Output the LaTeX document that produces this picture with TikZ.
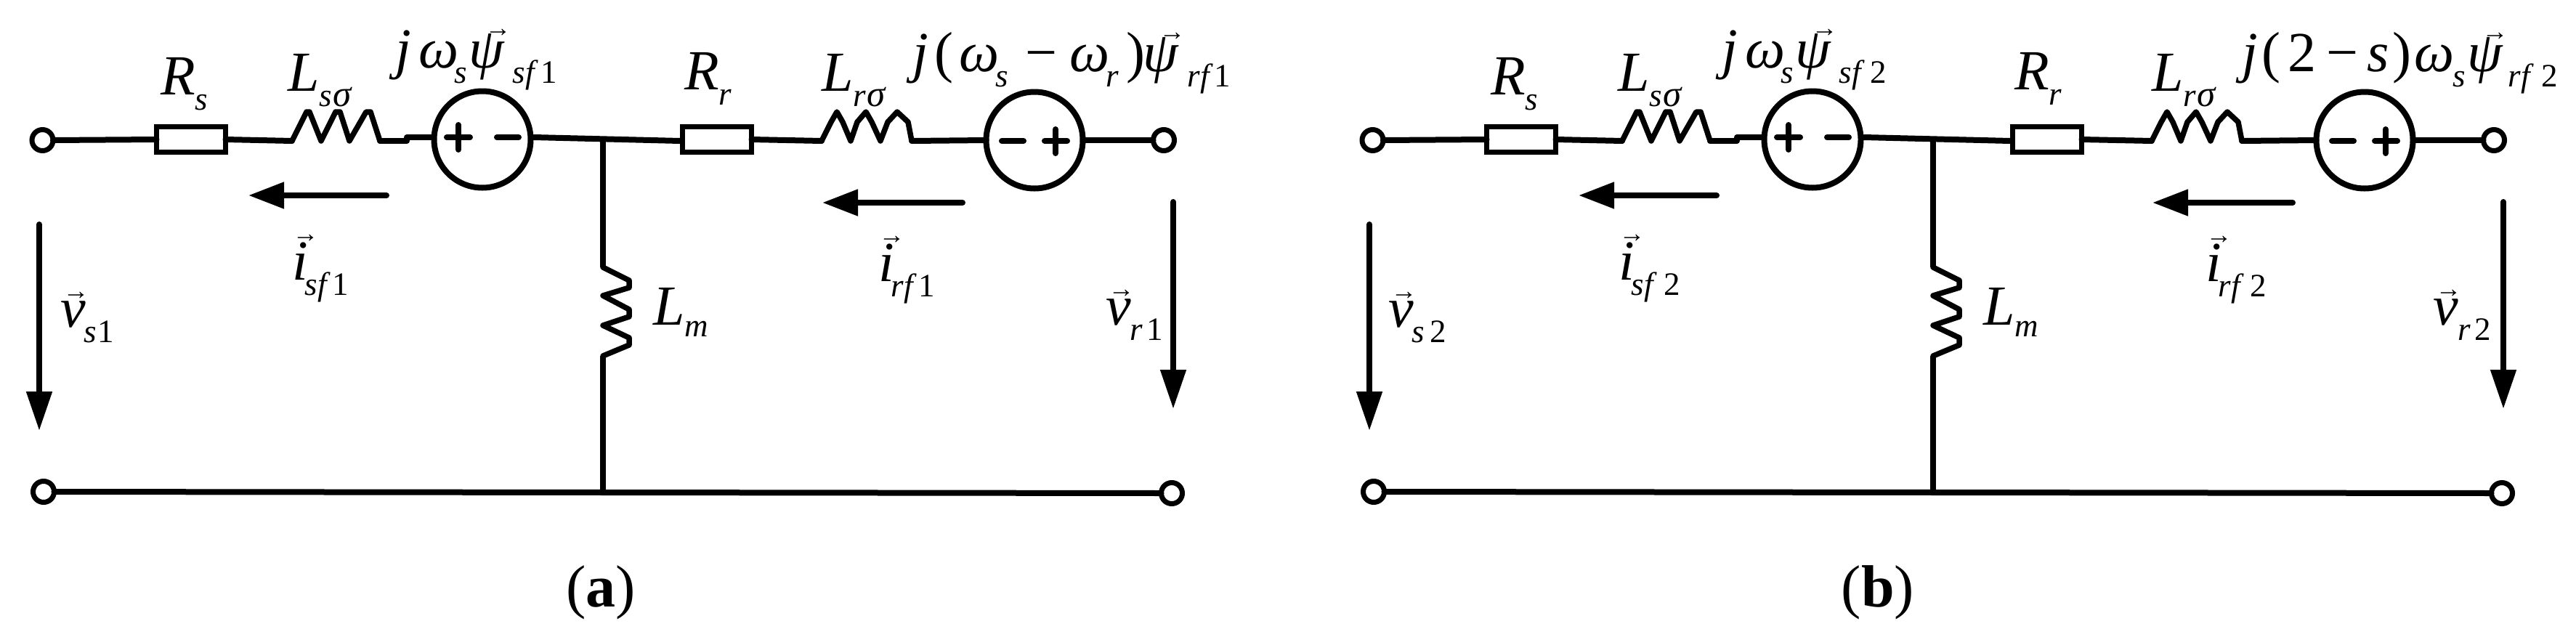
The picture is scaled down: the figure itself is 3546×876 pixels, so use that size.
\documentclass[tikz,border=0pt]{standalone}
\usepackage{fontspec}
\setmainfont{Liberation Serif}
\usetikzlibrary{arrows.meta}
\newcommand\mainf{\fontsize{78}{78}\selectfont\itshape}
\newcommand\subf{\fontsize{45}{45}\selectfont\itshape}
\newcommand\low[1]{\raisebox{-21pt}{\subf #1}}
\newcommand\up[1]{{\upshape #1}}
\newcommand\sg{{\fontsize{51}{51}\selectfont σ}}
\newcommand\pl[2]{\rlap{\hspace*{#1pt}#2}}
\newcommand\arrowed[3]{\rlap{\hspace*{#1pt}\raisebox{#2pt}{\fontsize{36}{36}\selectfont\upshape →}}#3}
\tikzset{
  x=1pt,y=-1pt,
  wire/.style={line width=8pt,line join=round,line cap=round},
  thinwire/.style={line width=7.5pt,line join=round},
  coil/.style={line width=7.5pt,line join=round,line cap=round},
  resbox/.style={draw,line width=7pt,fill=white,rectangle,minimum width=95pt,minimum height=35pt,inner sep=0pt,outer sep=0pt},
  srcnode/.style={draw,line width=8pt,fill=white,circle,minimum size=133pt,inner sep=0pt,outer sep=0pt},
  terminal/.style={draw,line width=7pt,fill=white,circle,minimum size=29pt,inner sep=0pt,outer sep=0pt},
  flow/.style={line width=8pt,line cap=round,-{Triangle[length=49pt,width=35pt]}},
  volt/.style={line width=8pt,line cap=round,-{Triangle[length=54pt,width=34pt]}},
  sign/.style={line width=8pt,line cap=round},
  lbl/.style={inner sep=0pt,outer sep=0pt,anchor=base west,font=\mainf},
  captxt/.style={inner sep=0pt,outer sep=0pt,anchor=base,font=\fontsize{82}{82}\selectfont},
}
\newcommand\cct{
  \node[terminal] (t1) at (58.5,193) {};
  \node[resbox] (rs) at (263,192) {};
  \node[srcnode] (s1) at (664,192) {};
  \node[resbox] (rr) at (987,192) {};
  \node[srcnode] (s2) at (1424,193) {};
  \node[terminal] (t2) at (1602,193) {};
  \node[terminal] (t3) at (60,677) {};
  \node[terminal] (t4) at (1613,679) {};
  \coordinate (l1a) at (402,194);
  \coordinate (l1b) at (523,194);
  \coordinate (l2a) at (1131,194);
  \coordinate (l2b) at (1255,194);
  \coordinate (jog) at (560,189);
  \coordinate (s1l) at (594,189);
  \coordinate (s1r) at (735,189);
  \coordinate (rrl) at (936,194);
  \coordinate (jn) at (830,191);
  \coordinate (lmt) at (830,368);
  \coordinate (lmb) at (830,490);
  \coordinate (bj) at (830,678);
  \draw[wire] (t1.east) -- (rs.west);
  \draw[wire] (rs.east) -- (l1a);
  \draw[coil] (l1a) -- (422,154) -- (426,154) -- (442,194) -- (462,154) -- (468,154) -- (481,194) -- (504,154) -- (510,154) -- (l1b);
  \draw[wire] (l1b) -- (560,194) -- (jog) -- (s1l);
  \draw[wire] (s1r) -- (rrl);
  \draw[wire] (rr.east) -- (l2a);
  \draw[coil] (l2a) -- (1144,168) -- (1152,154) -- (1160,168) -- (1171,194) -- (1180,168) -- (1192,154) -- (1200,168) -- (1212,194) -- (1222,168) -- (1235,154) -- (1250,168) -- (l2b);
  \draw[wire] (l2b) -- (s2.west);
  \draw[wire] (s2.east) -- (t2.west);
  \draw[thinwire] (jn) -- (lmt);
  \draw[coil] (lmt) -- (866,386) -- (866,396) -- (830,407) -- (866,426) -- (866,436) -- (830,448) -- (866,465) -- (866,475) -- (lmb);
  \draw[thinwire] (lmb) -- (bj);
  \draw[wire] (t3.east) -- (t4.west);
  \draw[sign] (615,189) -- (647,189) (631,172) -- (631,206);
  \draw[sign] (684,189) -- (714,189);
  \draw[sign] (1379,194) -- (1409,194);
  \draw[sign] (1438,194) -- (1469,194) (1453,178) -- (1453,211);
  \coordinate (i1a) at (532,269);
  \coordinate (i1b) at (342,269);
  \coordinate (i2a) at (1325,279);
  \coordinate (i2b) at (1132,279);
  \coordinate (v1a) at (54,309);
  \coordinate (v1b) at (54,593);
  \coordinate (v2a) at (1615,278);
  \coordinate (v2b) at (1615,563);
  \draw[flow] (i1a) -- (i1b);
  \draw[flow] (i2a) -- (i2b);
  \draw[volt] (v1a) -- (v1b);
  \draw[volt] (v2a) -- (v2b);
  \node[lbl] (lrs) at (221,130) {R\low{s}};
  \node[lbl] (lls) at (396,125) {L\low{s\hspace{2pt}\sg}};
  \node[lbl] (lrr) at (942,123) {R\low{r}};
  \node[lbl] (llr) at (1131,125) {L\low{r\hspace{2pt}\sg}};
  \node[lbl] (llm) at (899,447) {L\raisebox{-16pt}{\subf m}};
}
% j omega_s psi_sf<digit>
\newcommand\eone[2]{\pl{7}{j}\pl{39}{ω}\pl{88}{\low{s}}\pl{108}{\arrowed{22}{43}{ψ}}\pl{168}{\low{sf}}\pl{#1}{\low{\up{#2}}}}
% i_xf<digit>
\newcommand\cur[3]{\pl{0}{\arrowed{0}{52}{i}}\pl{17}{\low{#1}}\pl{#2}{\low{\up{#3}}}}
% v_x<digit>
\newcommand\vlt[4]{\pl{0}{\arrowed{3}{38}{v}}\pl{#2}{\low{#1}}\pl{#3}{\low{\up{#4}}}}
\begin{document}
\begin{tikzpicture}
  \fill[white,use as bounding box] (0,0) rectangle (3546,876);
  \begin{scope}[name prefix=a-]
    \cct
    \node[lbl] (e1) at (537,93) {\eone{207}{1}};
    \node[lbl] (e2) at (1249,98) {\pl{7}{j}\pl{37}{\up{(}}\pl{71}{ω}\pl{121}{\low{s}}\pl{162}{\up{−}}\pl{223}{ω}\pl{273}{\low{r}}\pl{301}{\up{)}}\pl{324}{\arrowed{22}{43}{ψ}}\pl{385}{\low{rf}}\pl{422}{\low{\up{1}}}};
    \node[lbl] (i1) at (402,385) {\cur{sf}{55}{1}};
    \node[lbl] (i2) at (1209,387) {\cur{rf}{55}{1}};
    \node[lbl] (v1) at (83,450) {\vlt{s}{32}{51}{1}};
    \node[lbl] (v2) at (1522,447) {\vlt{r}{33}{56}{1}};
    \node[captxt] (ca) at (827,835) {(\textbf{a})};
  \end{scope}
  \begin{scope}[xshift=1831pt,name prefix=b-]
    \cct
    \node[lbl] (e1) at (532,93) {\eone{211}{2}};
    \node[lbl] (e2) at (1248,98) {\pl{7}{j}\pl{34}{\up{(}}\pl{70}{\up{2}}\pl{123}{\up{−}}\pl{179}{s}\pl{214}{\up{)}}\pl{244}{ω}\pl{297}{\low{s}}\pl{317}{\arrowed{20}{43}{ψ}}\pl{373}{\low{rf}}\pl{419}{\low{\up{2}}}};
    \node[lbl] (i1) at (397,385) {\cur{sf}{62}{2}};
    \node[lbl] (i2) at (1205,387) {\cur{rf}{61}{2}};
    \node[lbl] (v1) at (80,450) {\vlt{s}{32}{57}{2}};
    \node[lbl] (v2) at (1518,447) {\vlt{r}{34}{57}{2}};
    \node[captxt] (cb) at (754,835) {(\textbf{b})};
  \end{scope}
\end{tikzpicture}
\end{document}
